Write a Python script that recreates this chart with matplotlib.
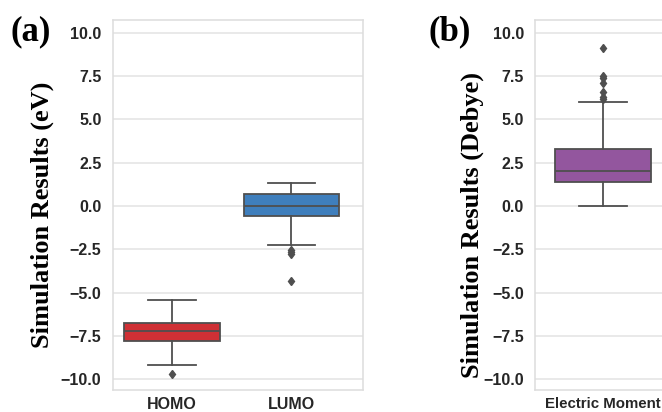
import matplotlib
matplotlib.use("Agg")
import matplotlib.pyplot as plt

# ---- data ----
cats_a = ["HOMO", "LUMO"]
whislo_a = [-9.19, -2.23]
q1_a = [-7.77, -0.56]
med_a = [-7.20, -0.03]
q3_a = [-6.77, 0.67]
whishi_a = [-5.41, 1.31]
fliers_homo = [-9.71]
fliers_lumo = [-2.55, -2.65, -2.75, -4.31]

cats_b = ["Electric Moment"]
whislo_b = [0.0]
q1_b = [1.38]
med_b = [2.02]
q3_b = [3.27]
whishi_b = [5.98]
fliers_em = [6.16, 6.31, 6.56, 7.08, 7.37, 7.52, 9.1]

yticks = [-10.0, -7.5, -5.0, -2.5, 0.0, 2.5, 5.0, 7.5, 10.0]

colors_a = ["#cf3035", "#3f7fbd"]
colors_b = ["#93569e"]
line_c = "#4f4f4f"

W, H = 662, 412
fig = plt.figure(figsize=(W / 100, H / 100), dpi=100)


def pos(l, r, t, b):
    return [l / W, 1 - b / H, (r - l) / W, (b - t) / H]


axa = fig.add_axes(pos(112.5, 362.5, 20, 390))
axb = fig.add_axes(pos(535, 671, 20, 390))


def draw(ax, cats, lo, q1, med, q3, hi, fliers, colors):
    stats = []
    for i, c in enumerate(cats):
        stats.append(dict(label=c, whislo=lo[i], q1=q1[i], med=med[i],
                          q3=q3[i], whishi=hi[i], fliers=fliers[i]))
    bp = ax.bxp(stats, positions=list(range(len(cats))), widths=0.8,
                patch_artist=True, showfliers=True,
                boxprops=dict(edgecolor=line_c, linewidth=1.3),
                medianprops=dict(color=line_c, linewidth=1.3),
                whiskerprops=dict(color=line_c, linewidth=1.3),
                capprops=dict(color=line_c, linewidth=1.3),
                capwidths=0.4,
                flierprops=dict(marker="d", markersize=4.5,
                                markerfacecolor=line_c, markeredgecolor=line_c))
    for p, col in zip(bp["boxes"], colors):
        p.set_facecolor(col)
    ax.set_ylim(-10.62, 10.73)
    ax.set_yticks(yticks)
    ax.set_yticklabels(["\u2212%.1f" % abs(v) if v < 0 else "%.1f" % v for v in yticks])
    ax.grid(axis="y", color="#e3e3e3", linewidth=1.1)
    ax.grid(axis="x", visible=False)
    ax.set_axisbelow(True)
    for s in ax.spines.values():
        s.set_color("#dddddd")
        s.set_linewidth(1.1)
    ax.tick_params(length=0, labelsize=11.5, labelcolor="#262626")
    ax.tick_params(axis="y", pad=8)
    ax.tick_params(axis="x", pad=5)
    for lab in ax.get_xticklabels() + ax.get_yticklabels():
        lab.set_fontweight("bold")
        lab.set_family("Liberation Sans")


draw(axa, cats_a, whislo_a, q1_a, med_a, q3_a, whishi_a,
     [fliers_homo, fliers_lumo], colors_a)
axa.set_xlim(-0.5, 1.595)
draw(axb, cats_b, whislo_b, q1_b, med_b, q3_b, whishi_b, [fliers_em], colors_b)
axb.set_xlim(-0.57, 0.57)
axb.tick_params(axis="x", labelsize=10.8)

serif = dict(family="Liberation Serif", weight="bold")
for ax, txt, x, y in [(axa, "Simulation Results (eV)", 42, 215),
                      (axb, "Simulation Results (Debye)", 472, 225)]:
    ax.set_ylabel(txt, fontsize=19, color="black", **serif)
    ax.yaxis.label.set(ha="center", va="center", rotation_mode="default")
    ax.yaxis.set_label_coords(x / W, 1 - y / H, transform=fig.transFigure)

fig.text(31 / W, 1 - 32 / H, "(a)", fontsize=25, ha="center", va="center", **serif)
fig.text(450 / W, 1 - 32 / H, "(b)", fontsize=25, ha="center", va="center", **serif)

fig.savefig("out.png", dpi=100)
